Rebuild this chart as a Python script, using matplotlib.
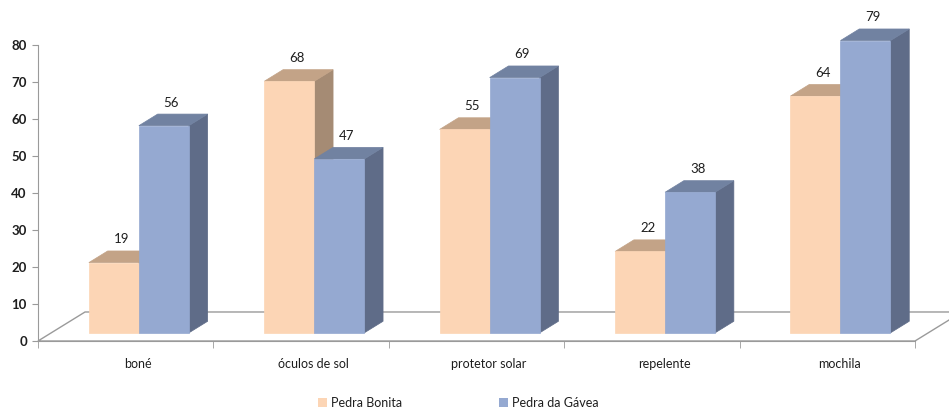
import matplotlib
matplotlib.use('Agg')
import matplotlib.pyplot as plt
from matplotlib.patches import Polygon, Patch
import numpy as np

categories = ['boné', 'óculos de sol', 'protetor solar', 'repelente', 'mochila']
pedra_bonita = [19, 68, 55, 22, 64]
pedra_gavea = [56, 47, 69, 38, 79]
series_names = ['Pedra Bonita', 'Pedra da Gávea']

# face colours: front, top, side
ORANGE = ('#FCD5B5', '#C3A387', '#A58B74')
BLUE = ('#95A9D1', '#7182A1', '#5F6C88')
GRID = '#9a9a9a'
TEXT = '#1e1e1e'

plt.rcParams['font.family'] = ['Lato', 'DejaVu Sans']

fig = plt.figure(figsize=(9.49, 4.12), dpi=100)
ax = fig.add_axes([38 / 949, 71 / 412, 877 / 949, 296 / 412])
ax.set_xlim(-0.5, 4.5)
ax.set_ylim(0, 80)

# floor depth in data units, bar placement inside it
FDX, FDY = 0.268, 7.84
F0 = 0.28          # front face of bars, fraction of floor depth
BD = 0.40          # bar depth, fraction of floor depth
BW = 0.285         # bar width

floor = Polygon([(-0.5, 0), (-0.5 + FDX, FDY), (4.5 + FDX, FDY), (4.5, 0)],
                closed=True, facecolor='white', edgecolor=GRID, lw=1,
                clip_on=False, zorder=1)
ax.add_patch(floor)


def bar3d(x0, h, cols):
    bx, by = x0 + F0 * FDX, F0 * FDY
    dx, dy = BD * FDX, BD * FDY
    front = [(bx, by), (bx + BW, by), (bx + BW, by + h), (bx, by + h)]
    top = [(bx, by + h), (bx + BW, by + h), (bx + BW + dx, by + h + dy), (bx + dx, by + h + dy)]
    side = [(bx + BW, by), (bx + BW + dx, by + dy), (bx + BW + dx, by + h + dy), (bx + BW, by + h)]
    for pts, c in ((side, cols[2]), (top, cols[1]), (front, cols[0])):
        ax.add_patch(Polygon(pts, closed=True, facecolor=c, edgecolor=c, lw=0.5,
                             clip_on=False, zorder=2))
    ax.text(bx + BW / 2 + 0.4 * dx, by + h + dy + 1.5, str(h), ha='center', va='bottom',
            fontsize=9.5, color=TEXT, clip_on=False, zorder=3)


for i in range(len(categories)):
    bar3d(i - BW, pedra_bonita[i], ORANGE)
    bar3d(i, pedra_gavea[i], BLUE)

for s in ('top', 'right'):
    ax.spines[s].set_visible(False)
for s in ('left', 'bottom'):
    ax.spines[s].set_color(GRID)

ax.set_yticks(np.arange(0, 81, 10))
ax.tick_params(axis='y', length=4, color=GRID, labelsize=9.5, labelcolor=TEXT, pad=4)
for lab in ax.get_yticklabels():
    lab.set_fontweight('bold')

ax.set_xticks(np.arange(len(categories)) + 0.07)
ax.set_xticklabels(categories)
ax.set_xticks(np.arange(-0.5, 4.6, 1), minor=True)
ax.tick_params(axis='x', which='major', length=0, labelsize=9, labelcolor=TEXT, pad=12)
ax.tick_params(axis='x', which='minor', length=5, color=GRID)

handles = [Patch(facecolor=ORANGE[0], edgecolor='none'),
           Patch(facecolor=BLUE[0], edgecolor='none')]
fig.legend(handles, series_names, loc='lower center', bbox_to_anchor=(0.483, -0.02),
           ncol=2, frameon=False, fontsize=9, handlelength=0.7, handleheight=0.7,
           handletextpad=0.3, columnspacing=7.8, labelcolor=TEXT)

fig.savefig('out.png', dpi=100)
